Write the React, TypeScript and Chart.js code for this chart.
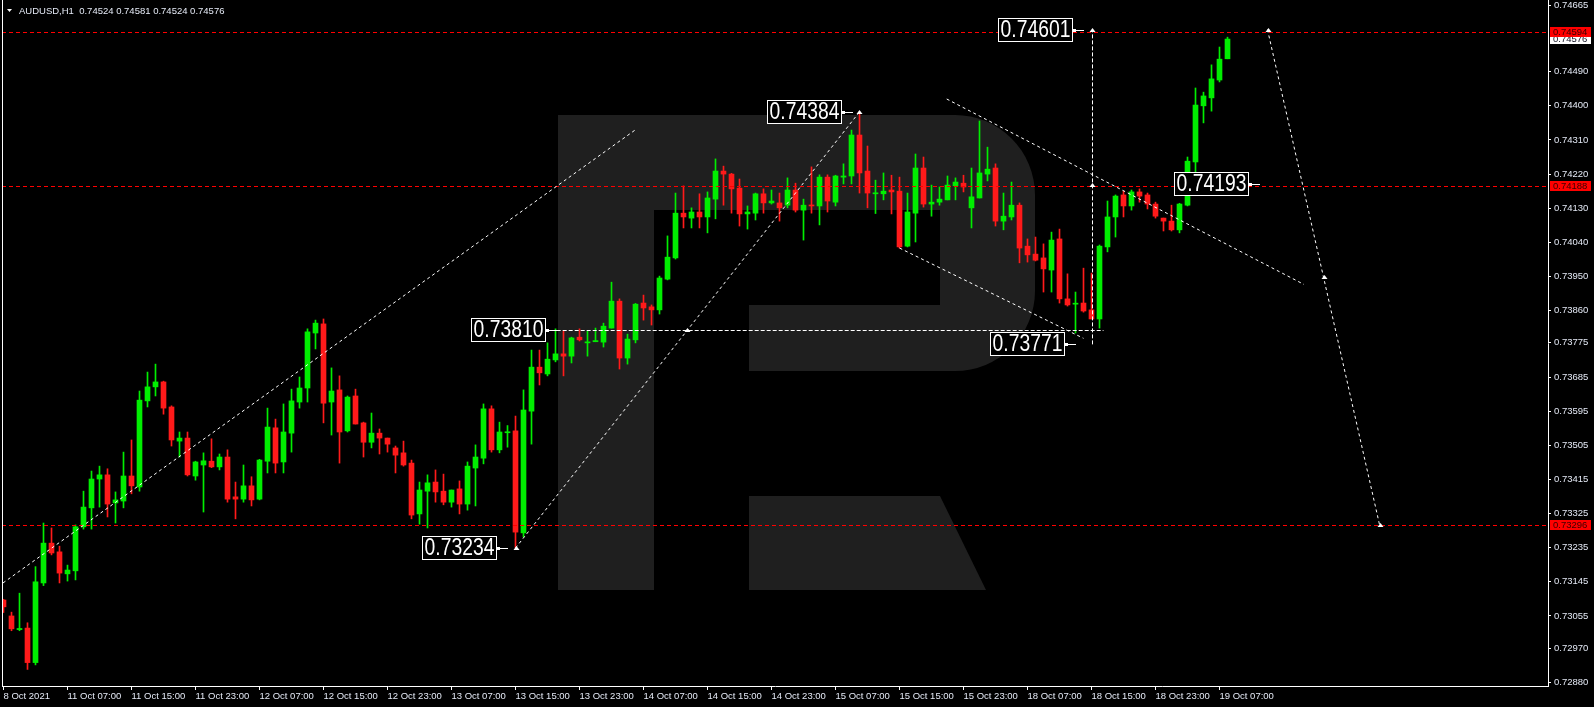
import React, { useEffect, useRef } from 'react';
import { Chart, registerables } from 'chart.js';

Chart.register(...registerables);

// ---------- data (AUDUSD H1) ----------
const OPEN = [
  0.73097, 0.73055, 0.73019, 0.73023, 0.72932, 0.73142, 0.73247, 0.73224, 0.73166, 0.73174,
  0.73290, 0.73340, 0.73416, 0.73427, 0.73353, 0.73358, 0.73424, 0.73395, 0.73622, 0.73659,
  0.73672, 0.73606, 0.73516, 0.73524, 0.73424, 0.73453, 0.73463, 0.73448, 0.73474, 0.73369,
  0.73363, 0.73398, 0.73363, 0.73463, 0.73551, 0.73461, 0.73537, 0.73619, 0.73656, 0.73801,
  0.73825, 0.73619, 0.73651, 0.73543, 0.73635, 0.73564, 0.73513, 0.73537, 0.73524, 0.73498,
  0.73485, 0.73458, 0.73324, 0.73384, 0.73408, 0.73384, 0.73355, 0.73390, 0.73350, 0.73445,
  0.73471, 0.73601, 0.73493, 0.73538, 0.73543, 0.73274, 0.73595, 0.73711, 0.73693, 0.73730,
  0.73746, 0.73740, 0.73790, 0.73775, 0.73778, 0.73777, 0.73814, 0.73885, 0.73735, 0.73783,
  0.73880, 0.73870, 0.73862, 0.73943, 0.73999, 0.74117, 0.74104, 0.74120, 0.74107, 0.74154,
  0.74228, 0.74220, 0.74183, 0.74115, 0.74117, 0.74168, 0.74144, 0.74144, 0.74138, 0.74178,
  0.74125, 0.74138, 0.74136, 0.74212, 0.74146, 0.74212, 0.74215, 0.74323, 0.74228, 0.74168,
  0.74168, 0.74178, 0.74175, 0.74030, 0.74117, 0.74236, 0.74141, 0.74146, 0.74152, 0.74189,
  0.74196, 0.74131, 0.74157, 0.74220, 0.74236, 0.74096, 0.74107, 0.74138, 0.74030, 0.74009,
  0.73999, 0.73967, 0.74049, 0.73891, 0.73877, 0.73880, 0.73862, 0.73838, 0.74028, 0.74107,
  0.74165, 0.74136, 0.74173, 0.74165, 0.74141, 0.74104, 0.74096, 0.74073, 0.74138, 0.74252,
  0.74400, 0.74421, 0.74468, 0.74524,
];
const HIGH = [
  0.73099, 0.73065, 0.73115, 0.73037, 0.73185, 0.73300, 0.73287, 0.73239, 0.73189, 0.73295,
  0.73384, 0.73437, 0.73450, 0.73443, 0.73382, 0.73487, 0.73519, 0.73648, 0.73698, 0.73719,
  0.73674, 0.73609, 0.73540, 0.73540, 0.73463, 0.73485, 0.73522, 0.73482, 0.73493, 0.73408,
  0.73453, 0.73422, 0.73468, 0.73603, 0.73574, 0.73614, 0.73653, 0.73685, 0.73812, 0.73835,
  0.73838, 0.73709, 0.73688, 0.73635, 0.73653, 0.73566, 0.73590, 0.73548, 0.73524, 0.73503,
  0.73516, 0.73466, 0.73408, 0.73427, 0.73440, 0.73429, 0.73387, 0.73411, 0.73461, 0.73506,
  0.73614, 0.73609, 0.73566, 0.73557, 0.73582, 0.73651, 0.73756, 0.73756, 0.73775, 0.73812,
  0.73806, 0.73790, 0.73812, 0.73806, 0.73814, 0.73827, 0.73935, 0.73891, 0.73798, 0.73879,
  0.73901, 0.73875, 0.73951, 0.74057, 0.74170, 0.74189, 0.74131, 0.74168, 0.74173, 0.74260,
  0.74241, 0.74222, 0.74207, 0.74136, 0.74170, 0.74181, 0.74178, 0.74170, 0.74210, 0.74196,
  0.74154, 0.74239, 0.74218, 0.74218, 0.74217, 0.74247, 0.74336, 0.74384, 0.74294, 0.74204,
  0.74223, 0.74217, 0.74212, 0.74170, 0.74273, 0.74265, 0.74191, 0.74186, 0.74215, 0.74210,
  0.74217, 0.74236, 0.74360, 0.74291, 0.74247, 0.74170, 0.74199, 0.74144, 0.74049, 0.74054,
  0.74036, 0.74067, 0.74075, 0.73957, 0.73909, 0.73972, 0.73959, 0.74033, 0.74149, 0.74165,
  0.74175, 0.74178, 0.74181, 0.74170, 0.74146, 0.74104, 0.74138, 0.74143, 0.74265, 0.74447,
  0.74436, 0.74508, 0.74555, 0.74581,
];
const LOW = [
  0.73064, 0.73016, 0.73016, 0.72914, 0.72926, 0.73135, 0.73216, 0.73142, 0.73147, 0.73150,
  0.73284, 0.73284, 0.73342, 0.73316, 0.73300, 0.73340, 0.73377, 0.73384, 0.73606, 0.73635,
  0.73587, 0.73503, 0.73474, 0.73424, 0.73413, 0.73329, 0.73446, 0.73440, 0.73355, 0.73311,
  0.73355, 0.73345, 0.73361, 0.73432, 0.73432, 0.73432, 0.73487, 0.73603, 0.73619, 0.73759,
  0.73564, 0.73532, 0.73458, 0.73540, 0.73561, 0.73474, 0.73498, 0.73482, 0.73487, 0.73432,
  0.73450, 0.73311, 0.73297, 0.73287, 0.73355, 0.73348, 0.73342, 0.73324, 0.73334, 0.73345,
  0.73456, 0.73487, 0.73485, 0.73500, 0.73234, 0.73263, 0.73508, 0.73664, 0.73688, 0.73725,
  0.73688, 0.73722, 0.73780, 0.73740, 0.73778, 0.73764, 0.73814, 0.73706, 0.73719, 0.73775,
  0.73835, 0.73822, 0.73851, 0.73941, 0.73996, 0.74078, 0.74078, 0.74078, 0.74065, 0.74102,
  0.74138, 0.74117, 0.74083, 0.74075, 0.74099, 0.74117, 0.74141, 0.74096, 0.74131, 0.74120,
  0.74046, 0.74117, 0.74086, 0.74120, 0.74136, 0.74194, 0.74194, 0.74170, 0.74131, 0.74116,
  0.74152, 0.74115, 0.74025, 0.74028, 0.74041, 0.74133, 0.74109, 0.74138, 0.74152, 0.74152,
  0.74173, 0.74078, 0.74157, 0.74202, 0.74083, 0.74073, 0.74099, 0.73986, 0.73988, 0.73991,
  0.73909, 0.73909, 0.73880, 0.73872, 0.73801, 0.73856, 0.73838, 0.73814, 0.74015, 0.74054,
  0.74107, 0.74125, 0.74146, 0.74128, 0.74104, 0.74070, 0.74070, 0.74065, 0.74136, 0.74202,
  0.74355, 0.74386, 0.74463, 0.74524,
];
const CLOSE = [
  0.73079, 0.73021, 0.73022, 0.72932, 0.73145, 0.73247, 0.73221, 0.73168, 0.73176, 0.73290,
  0.73342, 0.73416, 0.73427, 0.73350, 0.73361, 0.73424, 0.73398, 0.73624, 0.73659, 0.73672,
  0.73603, 0.73519, 0.73524, 0.73427, 0.73461, 0.73464, 0.73448, 0.73474, 0.73363, 0.73363,
  0.73398, 0.73361, 0.73466, 0.73553, 0.73458, 0.73540, 0.73622, 0.73656, 0.73804, 0.73827,
  0.73616, 0.73648, 0.73540, 0.73632, 0.73561, 0.73513, 0.73537, 0.73524, 0.73508, 0.73479,
  0.73453, 0.73321, 0.73387, 0.73406, 0.73382, 0.73355, 0.73387, 0.73350, 0.73450, 0.73474,
  0.73601, 0.73493, 0.73540, 0.73540, 0.73276, 0.73598, 0.73711, 0.73696, 0.73732, 0.73746,
  0.73740, 0.73788, 0.73783, 0.73777, 0.73781, 0.73819, 0.73885, 0.73735, 0.73785, 0.73877,
  0.73867, 0.73862, 0.73946, 0.74001, 0.74117, 0.74107, 0.74120, 0.74107, 0.74157, 0.74228,
  0.74220, 0.74181, 0.74115, 0.74120, 0.74168, 0.74144, 0.74149, 0.74131, 0.74178, 0.74125,
  0.74138, 0.74136, 0.74212, 0.74149, 0.74215, 0.74215, 0.74323, 0.74223, 0.74170, 0.74170,
  0.74175, 0.74173, 0.74028, 0.74120, 0.74236, 0.74141, 0.74146, 0.74154, 0.74191, 0.74199,
  0.74186, 0.74160, 0.74223, 0.74233, 0.74096, 0.74109, 0.74138, 0.74025, 0.74007, 0.73993,
  0.73970, 0.74046, 0.73891, 0.73875, 0.73879, 0.73859, 0.73838, 0.74030, 0.74107, 0.74162,
  0.74136, 0.74173, 0.74162, 0.74141, 0.74109, 0.74096, 0.74073, 0.74141, 0.74254, 0.74402,
  0.74426, 0.74471, 0.74523, 0.74576,
];

const X_TICK_INDEX = [0, 8, 16, 24, 32, 40, 48, 56, 64, 72, 80, 88, 96, 104, 112, 120, 128, 136, 144, 152];
const X_TICK_LABELS = [
  '8 Oct 2021', '11 Oct 07:00', '11 Oct 15:00', '11 Oct 23:00', '12 Oct 07:00', '12 Oct 15:00',
  '12 Oct 23:00', '13 Oct 07:00', '13 Oct 15:00', '13 Oct 23:00', '14 Oct 07:00', '14 Oct 15:00',
  '14 Oct 23:00', '15 Oct 07:00', '15 Oct 15:00', '15 Oct 23:00', '18 Oct 07:00', '18 Oct 15:00',
  '18 Oct 23:00', '19 Oct 07:00',
];
const Y_TICKS = [
  0.74665, 0.7449, 0.744, 0.7431, 0.7422, 0.7413, 0.7404, 0.7395, 0.7386, 0.73775,
  0.73685, 0.73595, 0.73505, 0.73415, 0.73325, 0.73235, 0.73145, 0.73055, 0.7297, 0.7288,
];
const X_MIN = -0.1875;
const X_MAX = 193.0625;
const Y_MIN = 0.728703;
const Y_MAX = 0.74679;

const HEADER = 'AUDUSD,H1  0.74524 0.74581 0.74524 0.74576';
const CURRENT_PRICE = 0.74576;
const RED_LEVELS = [0.74594, 0.74188, 0.73296];

// trend objects: [index, price] -> [index, price]
const TREND_FROM_X = [-0.06, 64, 69.15, 136, 117.9, 112, 158];
const TREND_FROM_Y = [0.73142, 0.73234, 0.7381, 0.73771, 0.74418, 0.74025, 0.74601];
const TREND_TO_X = [78.94, 107, 137.5, 136, 162.56, 135, 172];
const TREND_TO_Y = [0.74336, 0.74384, 0.7381, 0.74601, 0.73929, 0.73787, 0.73296];
const TREND_STYLE = ['dot', 'dot', 'dash', 'dash', 'dot', 'dot', 'dot'];

const MARKER_X = [64, 107, 85.4, 136, 136, 158, 165, 172];
const MARKER_Y = [0.73234, 0.74384, 0.7381, 0.74601, 0.7419, 0.74601, 0.73948, 0.73296];

const LABEL_TEXT = ['0.74601', '0.74384', '0.73810', '0.73234', '0.73771', '0.74193'];
const LABEL_X = [135.1, 106.15, 69.15, 63.1, 134.0, 157.1];
const LABEL_Y = [0.74601, 0.74384, 0.7381, 0.73234, 0.73771, 0.74193];

const UP = '#00ee00';
const DOWN = '#ff1a1a';
const AXIS_TEXT = '#e4e9f5';
const FONT = '"Liberation Sans", Arial, sans-serif';

const backgroundPlugin = {
  id: 'bgLogo',
  beforeDraw(chart: any) {
    const ctx = chart.ctx;
    ctx.save();
    ctx.fillStyle = '#000000';
    ctx.fillRect(0, 0, chart.width, chart.height);
    // watermark logo
    ctx.fillStyle = '#1f1f1f';
    const L = 558, T = 115, R = 1035, B = 371, r = 80;
    ctx.beginPath();
    ctx.moveTo(L, T);
    ctx.lineTo(R - r, T);
    ctx.arcTo(R, T, R, T + r, r);
    ctx.lineTo(R, B - r);
    ctx.arcTo(R, B, R - r, B, r);
    ctx.lineTo(L, B);
    ctx.closePath();
    ctx.fill();
    ctx.fillRect(558, 115, 96, 475);
    ctx.beginPath();
    ctx.moveTo(749, 496);
    ctx.lineTo(940, 496);
    ctx.lineTo(986, 590);
    ctx.lineTo(749, 590);
    ctx.closePath();
    ctx.fill();
    ctx.fillStyle = '#000000';
    ctx.fillRect(654, 210, 286, 95);
    ctx.fillRect(654, 305, 95, 66);
    ctx.restore();
  },
};

const overlayPlugin = {
  id: 'overlay',
  afterDatasetsDraw(chart: any) {
    const ctx = chart.ctx;
    const xs = chart.scales.x;
    const ys = chart.scales.y;
    const a = chart.chartArea;
    const px = (v: number) => xs.getPixelForValue(v);
    const py = (v: number) => ys.getPixelForValue(v);

    ctx.save();
    ctx.beginPath();
    ctx.rect(a.left, a.top, a.right - a.left, a.bottom - a.top);
    ctx.clip();

    // red horizontal levels
    ctx.strokeStyle = '#ff0000';
    ctx.lineWidth = 1;
    ctx.setLineDash([4, 3]);
    RED_LEVELS.forEach((lv) => {
      const y = Math.round(py(lv)) + 0.5;
      ctx.beginPath();
      ctx.moveTo(a.left, y);
      ctx.lineTo(a.right, y);
      ctx.stroke();
    });

    // white trend objects
    ctx.strokeStyle = '#ffffff';
    for (let i = 0; i < TREND_FROM_X.length; i++) {
      ctx.setLineDash(TREND_STYLE[i] === 'dash' ? [4, 2] : [3, 3]);
      let x1 = px(TREND_FROM_X[i]);
      let y1 = py(TREND_FROM_Y[i]);
      let x2 = px(TREND_TO_X[i]);
      let y2 = py(TREND_TO_Y[i]);
      if (x1 === x2) { x1 = x2 = Math.round(x1) + 0.5; }
      if (y1 === y2) { y1 = y2 = Math.round(y1) + 0.5; }
      ctx.beginPath();
      ctx.moveTo(x1, y1);
      ctx.lineTo(x2, y2);
      ctx.stroke();
    }
    ctx.setLineDash([]);

    // arrow markers
    ctx.fillStyle = '#ffffff';
    for (let i = 0; i < MARKER_X.length; i++) {
      const x = Math.round(px(MARKER_X[i]));
      const y = Math.round(py(MARKER_Y[i]));
      ctx.beginPath();
      ctx.moveTo(x - 2.5, y + 2);
      ctx.lineTo(x + 3.5, y + 2);
      ctx.lineTo(x + 0.5, y - 2);
      ctx.closePath();
      ctx.fill();
    }

    // price labels with pointer
    for (let i = 0; i < LABEL_TEXT.length; i++) {
      const tip = px(LABEL_X[i]);
      const cy = Math.round(py(LABEL_Y[i]));
      const right = Math.round(tip - 11);
      const w = 75, h = 24;
      const left = right - w;
      const top = cy - 12;
      ctx.fillStyle = '#000000';
      ctx.fillRect(left, top, w, h);
      ctx.strokeStyle = '#ffffff';
      ctx.lineWidth = 1;
      ctx.strokeRect(left + 0.5, top + 0.5, w - 1, h - 1);
      ctx.fillStyle = '#ffffff';
      ctx.fillRect(right, cy - 1, 3, 3);
      ctx.fillRect(right, cy, Math.round(tip) - right, 1);
      ctx.save();
      ctx.translate(left + w / 2, cy + 1);
      ctx.scale(0.84, 1);
      ctx.font = '23px ' + FONT;
      ctx.textAlign = 'center';
      ctx.textBaseline = 'middle';
      ctx.fillStyle = '#ffffff';
      ctx.fillText(LABEL_TEXT[i], 0, 0);
      ctx.restore();
    }
    ctx.restore();

    // axis price tags
    ctx.save();
    ctx.font = '9.5px ' + FONT;
    ctx.textAlign = 'left';
    ctx.textBaseline = 'middle';
    const tag = (v: number, bg: string, fg: string) => {
      const y = Math.round(py(v));
      ctx.fillStyle = bg;
      ctx.fillRect(a.right + 2, y - 5, 41, 10);
      ctx.fillStyle = fg;
      ctx.fillText(v.toFixed(5), a.right + 5, y);
    };
    tag(CURRENT_PRICE, '#ffffff', '#101020');
    RED_LEVELS.forEach((lv) => tag(lv, '#ff0000', '#3a0000'));
    ctx.restore();
  },
  afterDraw(chart: any) {
    const ctx = chart.ctx;
    const a = chart.chartArea;
    ctx.save();
    ctx.fillStyle = '#ffffff';
    ctx.fillRect(2, 0, 1, Math.round(a.bottom));
    // header
    ctx.beginPath();
    ctx.moveTo(7, 9);
    ctx.lineTo(12, 9);
    ctx.lineTo(9.5, 12);
    ctx.closePath();
    ctx.fill();
    ctx.font = '9.5px ' + FONT;
    ctx.textBaseline = 'middle';
    ctx.textAlign = 'left';
    ctx.fillStyle = AXIS_TEXT;
    ctx.fillText(HEADER, 19, 11);
    ctx.restore();
  },
};

export default function App() {
  const ref = useRef<HTMLCanvasElement | null>(null);

  useEffect(() => {
    document.body.style.margin = '0';
    document.body.style.background = '#000';
    const canvas = ref.current;
    if (!canvas) return;
    const idx = OPEN.map((_, i) => i);
    const colors = idx.map((i) => (CLOSE[i] >= OPEN[i] ? UP : DOWN));
    const chart = new Chart(canvas, {
      type: 'bar',
      data: {
        datasets: [
          {
            label: 'body',
            data: idx.map((i) => ({ x: i, y: [OPEN[i], CLOSE[i]] })) as any,
            backgroundColor: colors,
            barThickness: 5,
            minBarLength: 1,
            grouped: false,
            order: 0,
            borderWidth: 0,
          } as any,
          {
            label: 'wick',
            data: idx.map((i) => ({ x: i, y: [LOW[i], HIGH[i]] })) as any,
            backgroundColor: colors,
            barThickness: 1,
            grouped: false,
            order: 1,
            borderWidth: 0,
          } as any,
        ],
      },
      options: {
        responsive: false,
        animation: false,
        devicePixelRatio: 1,
        events: [],
        layout: { padding: { left: 2, top: 0, right: 0, bottom: 0 } },
        plugins: { legend: { display: false }, tooltip: { enabled: false }, title: { display: false } },
        scales: {
          x: {
            type: 'linear',
            min: X_MIN,
            max: X_MAX,
            offset: false,
            grid: { display: true, drawOnChartArea: false, drawTicks: true, tickLength: 4, color: '#ffffff', offset: false },
            border: { display: true, color: '#ffffff', width: 1 },
            ticks: {
              autoSkip: false,
              maxRotation: 0,
              minRotation: 0,
              align: 'start',
              padding: 1,
              color: AXIS_TEXT,
              font: { family: FONT, size: 9.5 },
              callback: (v: any) => {
                const k = X_TICK_INDEX.indexOf(Number(v));
                return k >= 0 ? X_TICK_LABELS[k] : '';
              },
            },
            afterBuildTicks: (s: any) => {
              s.ticks = X_TICK_INDEX.map((v) => ({ value: v }));
            },
            afterFit: (s: any) => {
              s.height = 21;
              s.paddingLeft = 0;
              s.paddingRight = 0;
            },
          } as any,
          y: {
            type: 'linear',
            position: 'right',
            min: Y_MIN,
            max: Y_MAX,
            grid: { display: true, drawOnChartArea: false, drawTicks: true, tickLength: 3, color: '#ffffff' },
            border: { display: true, color: '#ffffff', width: 1 },
            ticks: {
              padding: 3,
              color: AXIS_TEXT,
              font: { family: FONT, size: 9.5 },
              callback: (v: any) => Number(v).toFixed(5),
            },
            afterBuildTicks: (s: any) => {
              s.ticks = Y_TICKS.map((v) => ({ value: v }));
            },
            afterFit: (s: any) => {
              s.width = 46;
              s.paddingTop = 0;
              s.paddingBottom = 0;
            },
          } as any,
        },
      } as any,
      plugins: [backgroundPlugin, overlayPlugin],
    });
    return () => chart.destroy();
  }, []);

  return <canvas ref={ref} width={1594} height={707} style={{ display: 'block', width: 1594, height: 707 }} />;
}
